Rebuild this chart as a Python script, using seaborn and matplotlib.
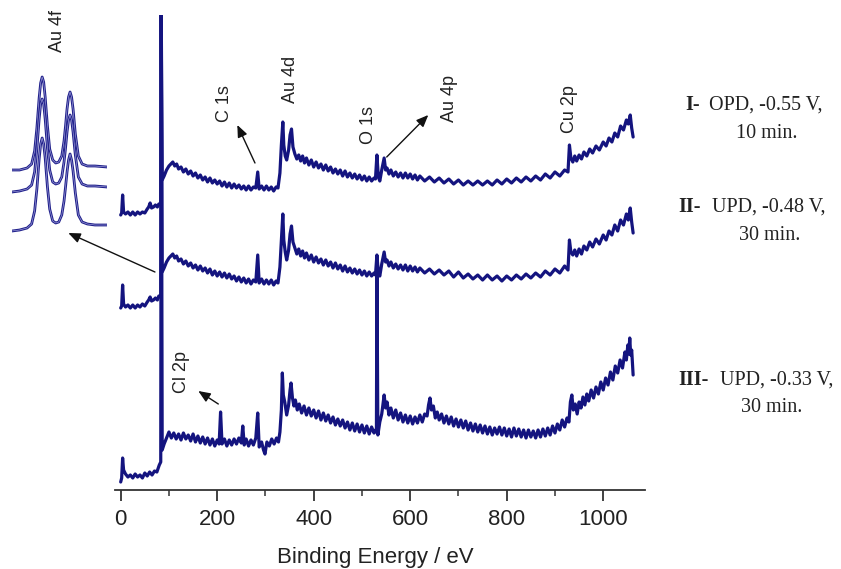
import matplotlib
matplotlib.use("Agg")
import matplotlib.pyplot as plt
import seaborn as sns
import pandas as pd
from matplotlib.ticker import MultipleLocator

# ---------------- data: (binding energy / eV, intensity in arbitrary stacked units) ----------------
trace_I_points = [
    (0, 275), (2, 277), (4, 295), (6, 278), (10, 276), (15, 278), (20, 275), (25, 278), (30, 275),
    (35, 278), (40, 276), (45, 278), (50, 277), (55, 281), (58, 283), (61, 287), (64, 282), (68, 283),
    (72, 285), (76, 283), (79, 286), (83, 285), (84, 480), (86, 310), (90, 314), (95, 320), (100, 324),
    (104, 326), (108, 328), (112, 324), (116, 326), (120, 321), (125, 323), (130, 318), (135, 321),
    (140, 316), (145, 319), (150, 314), (155, 317), (160, 312), (165, 315), (170, 310), (175, 313),
    (180, 308), (185, 312), (190, 307), (195, 310), (200, 306), (205, 309), (210, 304), (215, 308),
    (220, 303), (225, 307), (230, 302), (235, 306), (240, 302), (245, 305), (250, 301), (255, 304),
    (260, 300), (265, 304), (270, 300), (275, 303), (280, 302), (284, 318), (287, 301), (292, 304),
    (297, 300), (302, 304), (307, 300), (312, 303), (317, 299), (322, 303), (326, 302), (330, 317),
    (333, 345), (336, 368), (338, 345), (341, 334), (344, 330), (348, 340), (351, 355), (354, 361),
    (357, 343), (361, 336), (365, 331), (369, 335), (373, 329), (377, 334), (381, 327), (385, 332),
    (390, 325), (395, 330), (400, 323), (405, 328), (410, 322), (415, 326), (420, 320), (425, 325),
    (430, 319), (435, 323), (440, 317), (445, 321), (450, 316), (455, 320), (460, 314), (465, 319),
    (470, 313), (475, 317), (480, 312), (485, 316), (490, 311), (495, 315), (500, 310), (505, 314),
    (510, 309), (515, 313), (520, 309), (525, 312), (528, 311), (531, 335), (534, 313), (537, 309),
    (541, 320), (546, 332), (549, 320), (552, 322), (556, 316), (560, 320), (565, 314), (570, 318),
    (575, 313), (580, 317), (585, 312), (590, 317), (595, 312), (600, 316), (605, 311), (610, 315),
    (615, 310), (620, 314), (630, 309), (640, 313), (650, 308), (660, 312), (670, 307), (680, 311),
    (690, 306), (700, 310), (710, 305), (720, 309), (730, 305), (740, 309), (750, 305), (760, 309),
    (770, 305), (780, 310), (790, 306), (800, 311), (810, 307), (820, 312), (830, 308), (840, 313),
    (850, 309), (860, 314), (870, 310), (880, 316), (890, 312), (900, 318), (910, 314), (920, 320),
    (927, 318), (930, 345), (933, 332), (937, 328), (941, 334), (945, 329), (950, 335), (955, 331),
    (960, 338), (966, 334), (972, 341), (978, 337), (985, 344), (992, 340), (1000, 348), (1006, 344),
    (1012, 352), (1018, 348), (1024, 357), (1030, 353), (1036, 364), (1042, 360), (1048, 370),
    (1052, 366), (1056, 375), (1059, 362), (1062, 353)]

trace_II_points = [
    (0, 182), (2, 184), (4, 205), (6, 186), (10, 183), (15, 185), (20, 182), (25, 185), (30, 182),
    (35, 185), (40, 183), (45, 186), (50, 184), (55, 188), (58, 190), (61, 193), (64, 189), (68, 190),
    (72, 192), (76, 190), (79, 194), (83, 193), (84, 480), (86, 218), (90, 222), (95, 228), (100, 232),
    (104, 234), (108, 236), (112, 232), (116, 234), (120, 229), (125, 231), (130, 226), (135, 229),
    (140, 224), (145, 227), (150, 222), (155, 225), (160, 220), (165, 224), (170, 219), (175, 222),
    (180, 217), (185, 221), (190, 215), (195, 219), (200, 214), (205, 218), (210, 213), (215, 217),
    (220, 212), (225, 216), (230, 211), (235, 214), (240, 209), (245, 213), (250, 208), (255, 212),
    (260, 207), (265, 211), (270, 206), (275, 210), (280, 208), (284, 235), (287, 207), (292, 211),
    (297, 206), (302, 210), (307, 206), (312, 210), (317, 205), (322, 209), (326, 207), (330, 223),
    (333, 250), (336, 276), (338, 250), (341, 238), (344, 230), (348, 240), (351, 256), (354, 264),
    (357, 248), (361, 242), (365, 236), (369, 241), (373, 234), (377, 239), (381, 232), (385, 237),
    (390, 230), (395, 235), (400, 228), (405, 233), (410, 227), (415, 231), (420, 225), (425, 230),
    (430, 224), (435, 228), (440, 222), (445, 227), (450, 221), (455, 225), (460, 219), (465, 224),
    (470, 218), (475, 222), (480, 217), (485, 221), (490, 216), (495, 220), (500, 215), (505, 219),
    (510, 214), (515, 218), (520, 214), (525, 217), (528, 215), (531, 235), (534, 217), (537, 214),
    (541, 226), (546, 238), (549, 228), (552, 230), (556, 224), (560, 228), (565, 222), (570, 226),
    (575, 221), (580, 225), (585, 220), (590, 225), (595, 219), (600, 224), (605, 219), (610, 223),
    (615, 218), (620, 222), (630, 217), (640, 221), (650, 216), (660, 220), (670, 215), (680, 219),
    (690, 213), (700, 218), (710, 212), (720, 216), (730, 211), (740, 215), (750, 210), (760, 215),
    (770, 210), (780, 214), (790, 209), (800, 214), (810, 210), (820, 215), (830, 211), (840, 216),
    (850, 212), (860, 217), (870, 213), (880, 219), (890, 215), (900, 221), (910, 217), (920, 224),
    (927, 220), (930, 250), (933, 238), (937, 235), (941, 240), (945, 234), (950, 241), (955, 236),
    (960, 244), (966, 240), (972, 248), (978, 243), (985, 251), (992, 246), (1000, 255), (1006, 250),
    (1012, 259), (1018, 255), (1024, 265), (1030, 259), (1036, 270), (1042, 265), (1048, 276),
    (1052, 270), (1056, 282), (1059, 268), (1062, 257)]

trace_III_points = [
    (0, 8), (2, 12), (4, 32), (6, 20), (10, 16), (15, 13), (20, 15), (25, 12), (30, 16), (35, 13),
    (40, 15), (45, 12), (50, 17), (55, 14), (60, 18), (65, 15), (70, 19), (75, 18), (80, 25), (83, 28),
    (84, 480), (86, 40), (90, 46), (95, 52), (100, 58), (105, 52), (110, 57), (115, 51), (120, 56),
    (125, 50), (130, 57), (135, 51), (140, 55), (145, 49), (150, 56), (155, 48), (160, 54), (165, 47),
    (170, 53), (175, 46), (180, 52), (185, 45), (190, 51), (195, 44), (200, 50), (204, 46), (207, 78),
    (210, 46), (215, 51), (220, 44), (225, 50), (230, 45), (235, 51), (240, 46), (245, 52), (250, 47),
    (253, 64), (256, 45), (260, 51), (265, 44), (270, 50), (275, 45), (280, 52), (284, 77), (287, 43),
    (292, 48), (296, 40), (299, 36), (303, 48), (308, 44), (313, 51), (318, 46), (323, 52), (327, 48),
    (330, 58), (333, 80), (335, 117), (337, 95), (340, 88), (344, 75), (348, 85), (351, 100),
    (353, 107), (356, 92), (359, 84), (362, 90), (366, 80), (370, 86), (375, 77), (380, 84), (385, 75),
    (390, 82), (395, 74), (400, 80), (405, 72), (410, 79), (415, 70), (420, 77), (425, 69), (430, 75),
    (435, 67), (440, 73), (445, 65), (450, 71), (455, 64), (460, 70), (465, 62), (470, 68), (475, 60),
    (480, 67), (485, 59), (490, 66), (495, 58), (500, 65), (505, 57), (510, 64), (515, 56), (520, 63),
    (525, 57), (528, 60), (530, 58), (531, 228), (533, 55), (537, 68), (541, 76), (546, 95), (549, 82),
    (552, 88), (556, 75), (560, 82), (565, 72), (570, 80), (575, 70), (580, 77), (585, 68), (590, 75),
    (595, 67), (600, 74), (605, 66), (610, 73), (615, 67), (620, 75), (625, 68), (630, 76), (635, 74),
    (638, 85), (641, 92), (644, 80), (648, 84), (652, 72), (656, 78), (660, 70), (665, 76), (670, 67),
    (675, 74), (680, 66), (685, 73), (690, 64), (695, 71), (700, 63), (705, 70), (710, 62), (715, 69),
    (720, 60), (725, 67), (730, 59), (735, 66), (740, 58), (745, 65), (750, 57), (755, 64), (760, 56),
    (765, 63), (770, 55), (775, 62), (780, 56), (785, 63), (790, 55), (795, 62), (800, 54), (805, 61),
    (810, 53), (815, 62), (820, 54), (825, 61), (830, 53), (835, 60), (840, 52), (845, 60), (850, 53),
    (855, 59), (860, 52), (865, 60), (870, 53), (875, 61), (880, 54), (885, 62), (890, 55), (895, 64),
    (900, 57), (905, 66), (910, 60), (915, 70), (920, 63), (925, 72), (929, 68), (932, 88), (935, 95),
    (938, 80), (942, 86), (946, 76), (950, 88), (954, 82), (958, 93), (962, 85), (966, 96), (970, 89),
    (975, 100), (980, 92), (985, 103), (990, 96), (995, 108), (1000, 100), (1005, 112), (1010, 105),
    (1015, 118), (1020, 110), (1025, 124), (1030, 117), (1035, 130), (1040, 122), (1045, 138),
    (1048, 130), (1051, 145), (1053, 136), (1055, 152), (1057, 135), (1059, 140), (1061, 122),
    (1062, 115)]

# Au 4f high-resolution inset
inset_energy = [80.0, 81.0, 82.0, 82.6, 83.0, 83.3, 83.6, 83.8, 84.0, 84.2, 84.4, 84.7, 85.0, 85.4,
                85.8, 86.2, 86.6, 86.9, 87.1, 87.3, 87.5, 87.7, 87.9, 88.1, 88.4, 88.8, 89.3, 90.0,
                91.0, 92.6]
inset_I = [70, 70, 72, 76, 89, 112, 142, 157, 163, 158, 143, 114, 91, 80, 77, 78, 84, 99, 114, 131,
           143, 148, 143, 131, 106, 84, 76, 74, 74, 73]
inset_II = [48, 49, 51, 55, 68, 91, 121, 136, 141, 136, 121, 92, 70, 58, 56, 57, 63, 78, 92, 108,
            120, 125, 120, 108, 85, 63, 56, 54, 54, 53]
inset_III = [9, 10, 12, 16, 29, 51, 81, 96, 102, 96, 82, 53, 31, 19, 17, 18, 25, 39, 53, 68, 80, 86,
             80, 69, 47, 25, 18, 16, 15, 15]

tick_values = [0, 200, 400, 600, 800, 1000]
peak_labels = ["C 1s", "Au 4d", "O 1s", "Au 4p", "Cu 2p", "Cl 2p"]
peak_label_pos = [(216, 386), (351, 411), (513, 365), (682, 391), (931, 381), (126, 118)]
sample_bold = ["I-", "II-", "III-"]
sample_desc = ["OPD, -0.55 V,", "UPD, -0.48 V,", "UPD, -0.33 V,"]
sample_time = ["10 min.", "30 min.", "30 min."]

# ---------------- styling ----------------
sns.set_theme(style="white")
plt.rcParams["font.family"] = ["Liberation Sans", "DejaVu Sans"]

W, H = 841, 569
fig = plt.figure(figsize=(W / 100, H / 100), dpi=100)
navy = "#14147f"


def fx(px):
    return px / W


def fy(py):
    return 1 - py / H


ax = fig.add_axes([fx(115), fy(490), (645 - 115) / W, (490 - 15) / H])

frames = []
for name, pts in [("I", trace_I_points), ("II", trace_II_points), ("III", trace_III_points)]:
    frames.append(pd.DataFrame({"energy": [p[0] for p in pts], "intensity": [p[1] for p in pts],
                                "trace": name}))
df = pd.concat(frames, ignore_index=True)

sns.lineplot(data=df, x="energy", y="intensity", units="trace", estimator=None, sort=False,
             color=navy, linewidth=2.3, ax=ax, legend=False)

ax.set_xlim(-11.8, 1086.6)
ax.set_ylim(0, 475)
for s in ["left", "right", "top"]:
    ax.spines[s].set_visible(False)
ax.spines["bottom"].set_color("#333333")
ax.spines["bottom"].set_linewidth(1.3)
ax.set_yticks([])
ax.set_xticks(tick_values)
ax.xaxis.set_minor_locator(MultipleLocator(100))
ax.tick_params(axis="x", which="major", direction="out", length=8, width=1.3, color="#333333",
               labelsize=16, pad=6, bottom=True, labelcolor="#222222")
ax.tick_params(axis="x", which="minor", direction="out", length=4, width=1.1, color="#333333", bottom=True)
ax.set_xlabel("")
ax.set_ylabel("")
fig.text(fx(375), fy(557), "Binding Energy / eV", ha="center", va="center", fontsize=16, color="#222222")

# peak labels
for lab, (x, y) in zip(peak_labels, peak_label_pos):
    ax.text(x, y, lab, rotation=90, ha="center", va="center", fontsize=13, color="#222222")

arrow_kw = dict(arrowstyle="-|>,head_length=0.6,head_width=0.25", color="#111111", lw=1.0,
                shrinkA=0, shrinkB=0)
ax.annotate("", xy=(241.7, 365), xytext=(278.3, 327), arrowprops=arrow_kw)
ax.annotate("", xy=(637.5, 375), xytext=(551.3, 333), arrowprops=arrow_kw)
ax.annotate("", xy=(160.8, 99), xytext=(202.3, 86), arrowprops=arrow_kw)
ax.annotate("", xy=(-108.6, 257), xytext=(71, 218), arrowprops=arrow_kw, annotation_clip=False)

# inset
ax_in = fig.add_axes([fx(12), fy(240), (107 - 12) / W, 170 / H])
for vals in [inset_I, inset_II, inset_III]:
    d = pd.DataFrame({"energy": inset_energy, "intensity": vals})
    sns.lineplot(data=d, x="energy", y="intensity", color="#22228c", linewidth=2.0, ax=ax_in,
                 estimator=None, sort=False)
    sns.lineplot(data=d, x="energy", y="intensity", color="#c4c4f2", linewidth=0.45, alpha=0.8,
                 ax=ax_in, estimator=None, sort=False)
ax_in.set_xlim(80.0, 92.6)
ax_in.set_ylim(0, 170)
ax_in.axis("off")
fig.text(fx(57), fy(31), "Au 4f", rotation=90, ha="center", va="center", fontsize=13, color="#222222")

# sample descriptions
serif = ["Liberation Serif", "DejaVu Serif"]
rows = [(685, 709, 105, 767, 133), (678, 712, 207, 770, 236), (678, 720, 380, 772, 408)]
for (bx, dx, y1, tx, y2), b, d, t in zip(rows, sample_bold, sample_desc, sample_time):
    fig.text(fx(bx), fy(y1), b, family=serif, weight="bold", fontsize=14.5, ha="left", va="center",
             color="#222222")
    fig.text(fx(dx), fy(y1), d, family=serif, fontsize=14.5, ha="left", va="center", color="#222222")
    fig.text(fx(tx), fy(y2), t, family=serif, fontsize=14.5, ha="center", va="center", color="#222222")

fig.savefig("out.png", dpi=100, facecolor="white")
